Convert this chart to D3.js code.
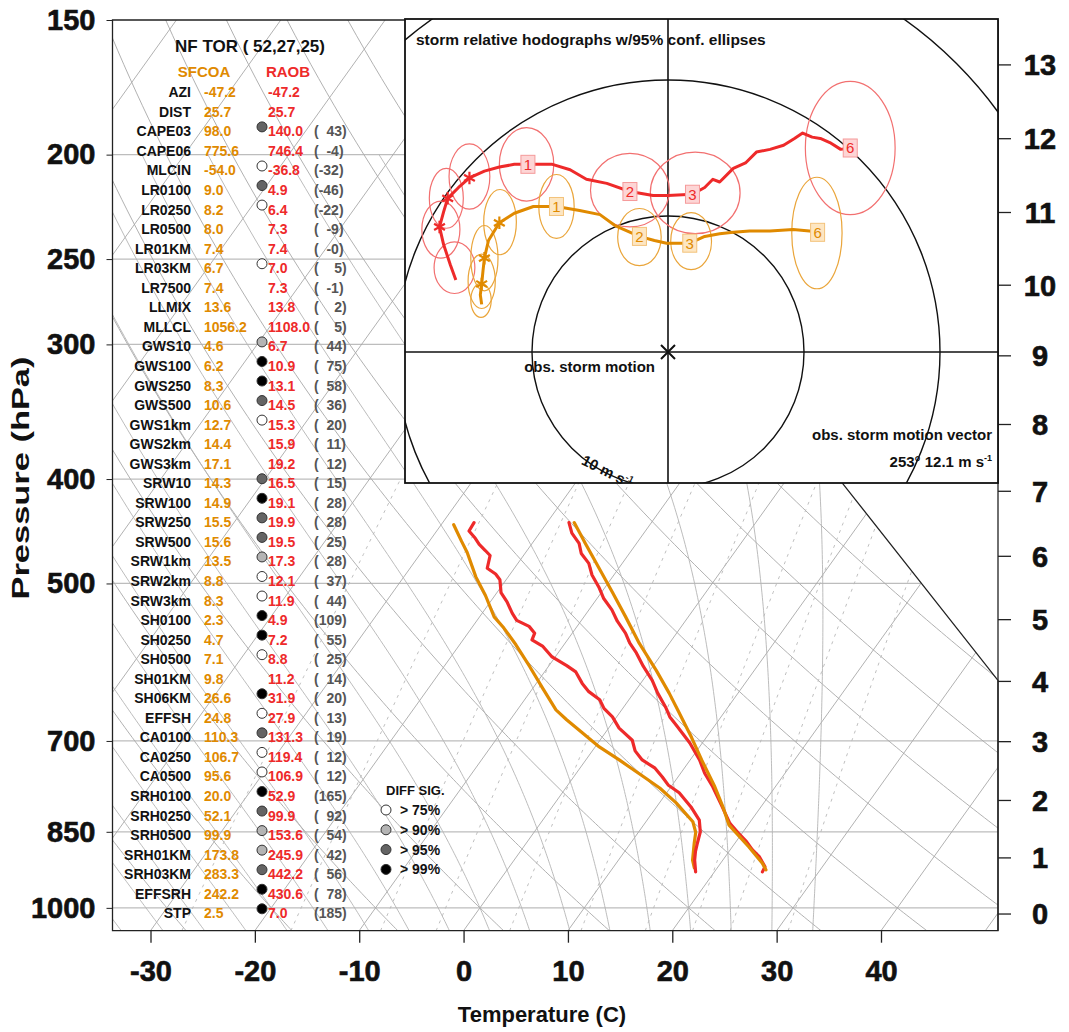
<!DOCTYPE html>
<html>
<head>
<meta charset="utf-8">
<script src="https://cdn.jsdelivr.net/npm/d3@7"></script>
<style>
body { margin: 0; background: #fff; }
svg text { font-family: "Liberation Sans", Arial, Helvetica, sans-serif; font-weight: bold; }
</style>
</head>
<body>
<div id="chart"></div>
<script>
// ---- table data ----
const rowNames = ["AZI","DIST","CAPE03","CAPE06","MLCIN","LR0100","LR0250","LR0500","LR01KM","LR03KM",
  "LR7500","LLMIX","MLLCL","GWS10","GWS100","GWS250","GWS500","GWS1km","GWS2km","GWS3km",
  "SRW10","SRW100","SRW250","SRW500","SRW1km","SRW2km","SRW3km","SH0100","SH0250","SH0500",
  "SH01KM","SH06KM","EFFSH","CA0100","CA0250","CA0500","SRH0100","SRH0250","SRH0500","SRH01KM",
  "SRH03KM","EFFSRH","STP"];
const sfcoaVals = ["-47.2","25.7","98.0","775.6","-54.0","9.0","8.2","8.0","7.4","6.7",
  "7.4","13.6","1056.2","4.6","6.2","8.3","10.6","12.7","14.4","17.1",
  "14.3","14.9","15.5","15.6","13.5","8.8","8.3","2.3","4.7","7.1",
  "9.8","26.6","24.8","110.3","106.7","95.6","20.0","52.1","99.9","173.8",
  "283.3","242.2","2.5"];
const raobVals = ["-47.2","25.7","140.0","746.4","-36.8","4.9","6.4","7.3","7.4","7.0",
  "7.3","13.8","1108.0","6.7","10.9","13.1","14.5","15.3","15.9","19.2",
  "16.5","19.1","19.9","19.5","17.3","12.1","11.9","4.9","7.2","8.8",
  "11.2","31.9","27.9","131.3","119.4","106.9","52.9","99.9","153.6","245.9",
  "442.2","430.6","7.0"];
const pctDiff = [null,null,"43","-4","-32","-46","-22","-9","-0","5",
  "-1","2","5","44","75","58","36","20","11","12",
  "15","28","28","25","28","37","44","109","55","25",
  "14","20","13","19","12","12","165","92","54","42",
  "56","78","185"];
// 0 none, 1 >75%, 2 >90%, 3 >95%, 4 >99%
const sigLevel = [0,0,3,0,1,3,1,0,0,1,
  0,0,0,2,4,4,3,1,0,0,
  3,4,3,3,2,1,1,4,4,1,
  0,4,1,3,1,1,4,3,2,2,
  3,4,4];
const sigLabels = ["> 75%","> 90%","> 95%","> 99%"];
const sigFill = ["#ffffff","#b4b4b4","#646464","#000000"];

// ---- sounding traces (pressure hPa, temperature C) ----
const raobTp = [439,449,459,469,479,491,504,516,529,542,556,568,580,597,615,632,651,665,679,703,729,750,772,803,834,852,868,883,897,916,926];
const raobT  = [-17.9,-16.9,-15.5,-14.6,-13.2,-12.1,-10.6,-9.4,-7.8,-6.5,-4.9,-3.8,-2.5,-0.9,0.9,2.3,4.0,5.1,6.5,8.8,10.9,12.3,14.0,16.1,18.1,19.6,21.0,22.1,23.3,24.5,24.6];
const sfcoaTp = [439,459,483,510,537,568,602,632,659,695,729,772,805,838,878,909,922];
const sfcoaT  = [-17.4,-14.9,-12.0,-8.9,-6.0,-2.9,0.6,3.4,5.7,8.6,11.1,14.2,16.3,18.2,21.6,24.0,24.8];
const raobTdp = [439,447,454,460,466,471,484,490,496,510,520,533,541,548,556,564,572,585,596,604,619,630,641,653,665,681,699,715,729,742,756,769,782,806,829,850,871,887,903,926];
const raobTd  = [-27.0,-26.9,-25.8,-25.0,-24.0,-23.2,-22.6,-21.4,-20.6,-19.6,-18.4,-17.1,-16.2,-14.6,-13.6,-13.4,-11.9,-10.3,-8.3,-7.0,-5.6,-4.4,-2.8,-1.8,-0.4,1.0,3.1,4.1,5.4,7.2,8.5,9.6,11.2,13.3,15.0,15.9,16.4,16.8,17.3,18.2];
const sfcoaTdp = [441,457,468,493,513,537,550,570,597,625,655,669,688,709,729,758,774,799,832,851,871,903,918];
const sfcoaTd  = [-28.8,-26.9,-25.6,-23.1,-20.9,-18.6,-16.9,-14.6,-11.8,-9.1,-6.3,-4.6,-2.2,0.4,3.2,7.0,9.0,11.6,14.5,15.5,16.1,17.1,17.8];

// ---- axes ----
const pressTicks = [150,200,250,300,400,500,700,850,1000];
const isobars = [200,250,300,400,500,700,850,1000];
const tempTicks = [-30,-20,-10,0,10,20,30,40];
const heightTicks = [0,1,2,3,4,5,6,7,8,9,10,11,12,13];
const isotherms = d3.range(-100, 51, 10);
const dryAdiabats = d3.range(-30, 171, 10);
const moistAdiabats = d3.range(-36, 33, 4);
const mixRatios = [0.4, 1, 2, 3, 5, 8, 12, 16, 20, 28];

// ---- hodographs (storm relative, m/s) ----
const raobU = [-15.6,-16.0,-16.5,-16.8,-16.5,-16.2,-15.4,-14.6,-13.5,-12.4,-11.3,-10.3,-8.5,-7.2,-6.0,-4.5,-2.8,-1.1,0.0,1.8,2.7,3.3,3.8,4.8,5.7,6.5,7.5,8.5,9.3,9.9,10.6,11.2,11.9,12.7,13.4];
const raobV = [5.3,6.4,7.9,9.2,10.3,11.3,12.1,12.8,13.3,13.6,13.8,13.8,13.8,13.4,12.7,12.4,11.8,11.5,11.5,11.6,12.1,12.7,12.5,13.5,13.9,14.7,14.9,15.2,15.7,16.1,15.8,15.7,15.4,14.9,15.0];
const raobStars = [3,5,7];
const raobLabels = [[11,"1"],[16,"2"],[19,"3"],[34,"6"]];
const sfcoaU = [-13.7,-13.8,-13.7,-13.6,-13.5,-13.2,-12.4,-11.3,-9.9,-8.2,-6.5,-5.0,-3.9,-2.1,-1.0,-0.1,1.6,2.7,3.8,4.8,6.0,7.5,9.2,10.4,11.0];
const sfcoaV = [3.5,4.2,5.0,6.0,6.9,8.2,9.5,10.2,10.7,10.7,10.4,10.1,9.3,8.5,8.2,8.0,8.0,8.5,8.7,8.8,8.9,8.9,9.0,8.9,8.8];
const sfcoaStars = [2,4,6];
const sfcoaLabels = [[9,"1"],[13,"2"],[16,"3"],[24,"6"]];
// ellipses: centre u, v, semi axes a (u), b (v)
const raobEll = [[-15.7,6.2,1.5,1.9],[-16.7,9.0,1.4,2.1],[-16.3,11.3,1.25,2.2],[-14.6,12.9,1.5,2.4],
  [-10.4,13.8,2.0,2.7],[-2.8,11.9,2.9,2.7],[2.0,11.7,3.3,3.0],[13.4,15.0,3.3,4.9]];
const sfcoaEll = [[-13.75,3.8,0.75,1.25],[-13.7,5.2,1.0,2.0],[-13.5,6.9,1.0,2.4],[-12.35,9.55,1.2,2.4],
  [-8.2,10.7,1.3,2.35],[-2.1,8.45,1.6,2.1],[1.7,8.15,1.5,2.1],[10.95,8.75,1.85,4.1]];
const ringSpeeds = [10, 20, 30];

const RED = "#ee2a2a", ORANGE = "#e08a00", RED_L = "#f27070", ORANGE_L = "#eaa53a";

const W = 1069, H = 1032;
const svg = d3.select("#chart").append("svg").attr("width", W).attr("height", H);

// scales
const y = d3.scaleLog().domain([150, 1050]).range([20, 930.7]);
const xb = d3.scaleLinear().domain([-30, 40]).range([150.5, 881]);
const SKEW = 0.716;
const sx = (T, p) => xb(T) + SKEW * (y(1050) - y(p));
const X0 = 112.5, X1 = 998, Y0 = y(150), Y1 = y(1050);
const kinkX = sx(5, 400);

// standard atmosphere, height km -> pressure hPa
function stdP(km) {
  const z = km * 1000;
  if (z <= 11000) return 1013.25 * Math.pow(1 - 2.25577e-5 * z, 5.25588);
  return 226.32 * Math.exp(-(z - 11000) / 6341.6);
}

// thermodynamics for the background lines
function esat(Tc) { return 6.112 * Math.exp(17.67 * Tc / (Tc + 243.5)); }
function moistLapse(Tk, p) {
  const Rd = 287.04, cp = 1005.7, L = 2.501e6, eps = 0.622;
  const es = esat(Tk - 273.15);
  const rs = eps * es / (p - es);
  return ((Rd * Tk + L * rs) / p) / (cp + (L * L * rs * eps) / (Rd * Tk * Tk));
}
function moistLine(tw) {
  const pts = [];
  let T = tw + 273.15, dp = 5;
  const down = [];
  for (let p = 1000; p < 1050; p += dp) {
    const k1 = moistLapse(T, p), k2 = moistLapse(T + k1 * dp, p + dp);
    T += 0.5 * (k1 + k2) * dp;
    down.push([p + dp, T - 273.15]);
  }
  T = tw + 273.15;
  pts.push([1000, tw]);
  for (let p = 1000; p > 200; p -= dp) {
    const k1 = moistLapse(T, p), k2 = moistLapse(T - k1 * dp, p - dp);
    T -= 0.5 * (k1 + k2) * dp;
    pts.push([p - dp, T - 273.15]);
  }
  return down.reverse().concat(pts);
}

const framePts = [[X0, Y0], [X0, Y1], [X1, Y1], [X1, y(615)], [kinkX, y(400)], [kinkX, Y0]].join(" ");
const defs = svg.append("defs");
defs.append("clipPath").attr("id", "frameClip").append("polygon").attr("points", framePts);

const grid = svg.append("g").attr("clip-path", "url(#frameClip)");
const lineP = d3.line().x(d => sx(d[1], d[0])).y(d => y(d[0]));
const pSteps = d3.range(1050, 149, -5);

grid.selectAll("line.isobar").data(isobars).join("line")
  .attr("x1", X0).attr("x2", X1).attr("y1", d => y(d)).attr("y2", d => y(d))
  .attr("stroke", "#bdbdbd").attr("stroke-width", 1.2);

grid.selectAll("path.isotherm").data(isotherms).join("path")
  .attr("d", t => lineP([[1050, t], [150, t]]))
  .attr("fill", "none").attr("stroke", "#a8a8a8").attr("stroke-width", 0.9);

grid.selectAll("path.dry").data(dryAdiabats).join("path")
  .attr("d", th => lineP(pSteps.map(p => [p, (th + 273.15) * Math.pow(p / 1000, 0.2857) - 273.15])))
  .attr("fill", "none").attr("stroke", "#a8a8a8").attr("stroke-width", 0.9);

grid.selectAll("path.moist").data(moistAdiabats).join("path")
  .attr("d", tw => lineP(moistLine(tw)))
  .attr("fill", "none").attr("stroke", "#b4b4b4").attr("stroke-width", 0.9);

grid.selectAll("path.mix").data(mixRatios).join("path")
  .attr("d", w => lineP(d3.range(1050, 399, -10).map(p => {
    const e = w * p / (622 + w), l = Math.log(e / 6.112);
    return [p, 243.5 * l / (17.67 - l)];
  })))
  .attr("fill", "none").attr("stroke", "#b8b8b8").attr("stroke-width", 0.9)
  .attr("stroke-dasharray", "3,5");

// frame
svg.append("polygon").attr("points", framePts)
  .attr("fill", "none").attr("stroke", "#222").attr("stroke-width", 1.3);
svg.append("line").attr("x1", X1).attr("x2", X1).attr("y1", Y0).attr("y2", Y1)
  .attr("stroke", "#222").attr("stroke-width", 1.3);

// traces
const traces = [
  [sfcoaTdp, sfcoaTd, ORANGE], [raobTdp, raobTd, RED],
  [raobTp, raobT, RED], [sfcoaTp, sfcoaT, ORANGE]
];
traces.forEach(([ps, ts, c]) => {
  svg.append("path").datum(ps.map((p, i) => [p, ts[i]]))
    .attr("d", lineP).attr("fill", "none").attr("stroke", c)
    .attr("stroke-width", 3.2).attr("stroke-linejoin", "round").attr("stroke-linecap", "round");
});

// axes
function heavy(sel) {
  sel.attr("font-size", 29).attr("fill", "#111").attr("font-family", null)
    .attr("stroke", "#111").attr("stroke-width", 0.6);
}
const bottom = svg.append("g").attr("transform", `translate(0,${Y1})`)
  .call(d3.axisBottom(xb).tickValues(tempTicks).tickFormat(d => String(d)).tickSize(12).tickPadding(18));
bottom.select(".domain").remove();
bottom.selectAll("line").attr("stroke", "#222").attr("stroke-width", 1.3);
bottom.selectAll("text").call(heavy);

const left = svg.append("g").attr("transform", `translate(${X0},0)`)
  .call(d3.axisLeft(y).tickValues(pressTicks).tickFormat(d => String(d)).tickSize(6).tickPadding(11));
left.select(".domain").remove();
left.selectAll("line").attr("stroke", "#222");
left.selectAll("text").call(heavy);

const right = svg.append("g").attr("transform", `translate(${X1},0)`);
right.selectAll("g.km").data(heightTicks).join("g").attr("class", "km")
  .attr("transform", h => `translate(0,${y(stdP(h))})`)
  .each(function (h) {
    const g = d3.select(this);
    g.append("line").attr("x2", 13).attr("stroke", "#222").attr("stroke-width", 1.3);
    g.append("text").attr("x", 42).attr("dy", "0.36em").attr("text-anchor", "middle").call(heavy).text(h);
  });

svg.append("text").attr("x", 542).attr("y", 1022).attr("text-anchor", "middle")
  .attr("font-size", 22).attr("fill", "#111").text("Temperature (C)");
svg.append("text").attr("transform", "translate(29,478) rotate(-90)")
  .attr("text-anchor", "middle").attr("font-size", 23).attr("fill", "#111")
  .attr("textLength", 243).attr("lengthAdjust", "spacingAndGlyphs").text("Pressure (hPa)");

// table
const rowY = d3.scaleLinear().domain([0, rowNames.length - 1]).range([92.3, 913.3]);
const table = svg.append("g");
table.append("text").attr("x", 250).attr("y", 52).attr("text-anchor", "middle")
  .attr("font-size", 17).attr("fill", "#111").text("NF TOR ( 52,27,25)");
table.append("text").attr("x", 204).attr("y", 77).attr("text-anchor", "middle")
  .attr("font-size", 15).attr("fill", ORANGE).text("SFCOA");
table.append("text").attr("x", 288).attr("y", 77).attr("text-anchor", "middle")
  .attr("font-size", 15).attr("fill", RED).text("RAOB");
const rows = table.selectAll("g.row").data(rowNames).join("g").attr("class", "row")
  .attr("transform", (d, i) => `translate(0,${rowY(i)})`);
rows.append("text").attr("x", 191).attr("y", 5).attr("text-anchor", "end")
  .attr("font-size", 14).attr("fill", "#111").text(d => d);
rows.append("text").attr("x", 204).attr("y", 5).attr("font-size", 14).attr("fill", ORANGE)
  .text((d, i) => sfcoaVals[i]);
rows.append("text").attr("x", 268).attr("y", 5).attr("font-size", 14).attr("fill", RED)
  .text((d, i) => raobVals[i]);
rows.append("text").attr("x", 314).attr("y", 5).attr("font-size", 14).attr("fill", "#555")
  .style("white-space", "pre")
  .text((d, i) => pctDiff[i] === null ? "" : "(" + pctDiff[i].padStart(3, "\u2007") + ")");
rows.filter((d, i) => sigLevel[i] > 0).append("circle")
  .attr("cx", 262).attr("cy", -4.5).attr("r", 5)
  .attr("fill", d => sigFill[sigLevel[rowNames.indexOf(d)] - 1])
  .attr("stroke", "#333").attr("stroke-width", 1);

// legend
const leg = svg.append("g");
leg.append("text").attr("x", 386).attr("y", 795).attr("font-size", 13).attr("fill", "#111").text("DIFF SIG.");
const li = leg.selectAll("g.li").data(sigLabels).join("g").attr("class", "li")
  .attr("transform", (d, i) => `translate(386,${810 + i * 19.8})`);
li.append("circle").attr("r", 5).attr("fill", (d, i) => sigFill[i]).attr("stroke", "#333");
li.append("text").attr("x", 14).attr("y", 5).attr("font-size", 14).attr("fill", "#111").text(d => d);

// hodograph panel
const HB = {x0: 405, x1: 998, y0: 19, y1: 483};
const hx = d3.scaleLinear().domain([0, 10]).range([668, 804]);
const hy = d3.scaleLinear().domain([0, 10]).range([352, 216]);
const hod = svg.append("g");
defs.append("clipPath").attr("id", "hodClip").append("rect")
  .attr("x", HB.x0).attr("y", HB.y0).attr("width", HB.x1 - HB.x0).attr("height", HB.y1 - HB.y0);
hod.append("rect").attr("x", HB.x0).attr("y", HB.y0).attr("width", HB.x1 - HB.x0)
  .attr("height", HB.y1 - HB.y0).attr("fill", "#fff");
const hc = hod.append("g").attr("clip-path", "url(#hodClip)");
hc.selectAll("circle.ring").data(ringSpeeds).join("circle")
  .attr("cx", hx(0)).attr("cy", hy(0)).attr("r", d => hx(d) - hx(0))
  .attr("fill", "none").attr("stroke", "#111").attr("stroke-width", 1.4);
hc.append("line").attr("x1", hx(0)).attr("x2", hx(0)).attr("y1", HB.y0).attr("y2", HB.y1)
  .attr("stroke", "#111").attr("stroke-width", 1.6);
hc.append("line").attr("x1", HB.x0).attr("x2", HB.x1).attr("y1", hy(0)).attr("y2", hy(0))
  .attr("stroke", "#111").attr("stroke-width", 1.6);

function drawEll(list, col) {
  hc.selectAll(null).data(list).join("ellipse")
    .attr("cx", d => hx(d[0])).attr("cy", d => hy(d[1]))
    .attr("rx", d => hx(d[2]) - hx(0)).attr("ry", d => hy(0) - hy(d[3]))
    .attr("fill", "none").attr("stroke", col).attr("stroke-width", 1.2);
}
drawEll(raobEll, RED_L);
drawEll(sfcoaEll, ORANGE_L);

const hline = d3.line().x(d => hx(d[0])).y(d => hy(d[1]));
function drawHodo(us, vs, stars, labels, col, fillL, strokeL) {
  const pts = us.map((u, i) => [u, vs[i]]);
  hc.append("path").datum(pts).attr("d", hline).attr("fill", "none").attr("stroke", col)
    .attr("stroke-width", 3).attr("stroke-linejoin", "round");
  hc.selectAll(null).data(stars).join("path")
    .attr("transform", i => `translate(${hx(pts[i][0])},${hy(pts[i][1])})`)
    .attr("d", d3.symbol(d3.symbolAsterisk, 110)).attr("fill", "none")
    .attr("stroke", col).attr("stroke-width", 2.2);
  const lg = hc.selectAll(null).data(labels).join("g")
    .attr("transform", d => `translate(${hx(pts[d[0]][0])},${hy(pts[d[0]][1])})`);
  lg.append("rect").attr("x", -7).attr("y", -9).attr("width", 14).attr("height", 18)
    .attr("fill", fillL).attr("stroke", strokeL).attr("stroke-width", 1);
  lg.append("text").attr("text-anchor", "middle").attr("dy", "0.36em")
    .attr("font-size", 15).style("font-weight", "normal")
    .attr("fill", col).text(d => d[1]);
}
drawHodo(sfcoaU, sfcoaV, sfcoaStars, sfcoaLabels, ORANGE, "#fde6c2", "#f3c27a");
drawHodo(raobU, raobV, raobStars, raobLabels, RED, "#fdd5d5", "#f59a9a");

// storm motion marker
hc.append("path").attr("transform", `translate(${hx(0)},${hy(0)})`)
  .attr("d", "M-7,-7L7,7M-7,7L7,-7").attr("stroke", "#111").attr("stroke-width", 2);

hod.append("rect").attr("x", HB.x0).attr("y", HB.y0).attr("width", HB.x1 - HB.x0)
  .attr("height", HB.y1 - HB.y0).attr("fill", "none").attr("stroke", "#111").attr("stroke-width", 1.8);

hod.append("text").attr("x", 416).attr("y", 45).attr("font-size", 15.5).attr("fill", "#111")
  .text("storm relative hodographs w/95% conf. ellipses");
hod.append("text").attr("x", 655).attr("y", 372).attr("text-anchor", "end")
  .attr("font-size", 15).attr("fill", "#111").text("obs. storm motion");
hod.append("text").attr("x", 992).attr("y", 440).attr("text-anchor", "end")
  .attr("font-size", 15).attr("fill", "#111").text("obs. storm motion vector");
const smv = hod.append("text").attr("x", 992).attr("y", 467).attr("text-anchor", "end")
  .attr("font-size", 15).attr("fill", "#111");
smv.append("tspan").text("253\u00b0 12.1 m s");
smv.append("tspan").attr("font-size", 9).attr("dy", -6).text("-1");

const ang = 117 * Math.PI / 180, r10 = hx(10) - hx(0) - 2;
const ringLbl = hod.append("text")
  .attr("transform", `translate(${hx(0) + r10 * Math.cos(ang)},${hy(0) + r10 * Math.sin(ang)}) rotate(27)`)
  .attr("text-anchor", "middle").attr("dy", "0.35em").attr("font-size", 15).attr("fill", "#111");
ringLbl.append("tspan").text("10 m s");
ringLbl.append("tspan").attr("font-size", 9).attr("dy", -6).text("-1");
</script>
</body>
</html>
